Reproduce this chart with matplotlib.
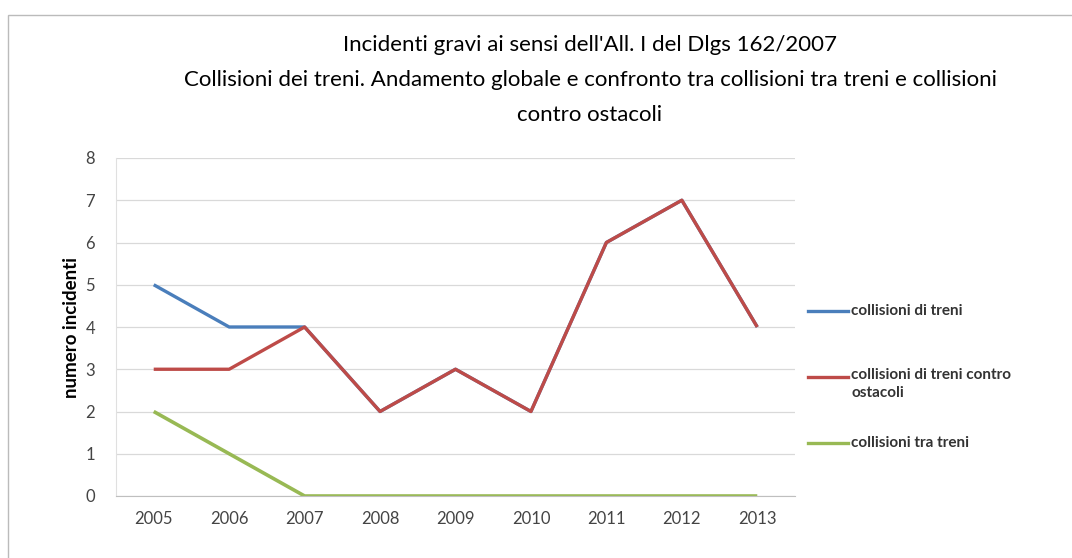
import matplotlib.pyplot as plt
from matplotlib.patches import Rectangle

plt.rcParams['font.family'] = ['Lato', 'DejaVu Sans']

anni = ['2005', '2006', '2007', '2008', '2009', '2010', '2011', '2012', '2013']
collisioni_treni = [5, 4, 4, 2, 3, 2, 6, 7, 4]
contro_ostacoli = [3, 3, 4, 2, 3, 2, 6, 7, 4]
tra_treni = [2, 1, 0, 0, 0, 0, 0, 0, 0]

fig = plt.figure(figsize=(10.72, 5.58), dpi=100)
ax = fig.add_axes([116 / 1072, 1 - 496 / 558, (795 - 116) / 1072, (496 - 158) / 558])

x = range(len(anni))
ax.plot(x, collisioni_treni, color='#4a7ebb', lw=2.4, solid_capstyle='butt')
ax.plot(x, contro_ostacoli, color='#be4b48', lw=2.4, solid_capstyle='butt')
ax.plot(x, tra_treni, color='#98b954', lw=2.6, solid_capstyle='butt')

ax.set_xlim(-0.5, len(anni) - 0.5)
ax.set_ylim(0, 8)
ax.set_yticks(range(0, 9))
ax.set_xticks(list(x))
ax.set_xticklabels(anni)
ax.grid(axis='y', color='#d9d9d9', lw=0.9)
ax.set_axisbelow(True)
for s in ['top', 'right']:
    ax.spines[s].set_visible(False)
ax.spines['left'].set_color('#e0e0e0')
ax.spines['bottom'].set_color('#bfbfbf')
ax.tick_params(axis='both', length=0, labelsize=12, colors='#444444')
ax.tick_params(axis='x', pad=11)
ax.tick_params(axis='y', pad=15)
ax.set_ylabel('numero incidenti', fontsize=13.5, fontweight='bold', labelpad=4)

# legenda
leg = [('collisioni di treni', '#4a7ebb', 311),
       ('collisioni di treni contro\nostacoli', '#be4b48', 377),
       ('collisioni tra treni', '#98b954', 443)]
for testo, col, yy in leg:
    fy = 1 - yy / 558
    fig.add_artist(plt.Line2D([808 / 1072, 848 / 1072], [fy, fy], color=col, lw=2.4))
    fig.text(851 / 1072, fy + (0.016 if '\n' in testo else 0), testo, fontsize=11,
             fontweight='bold', color='#333333',
             va='top' if '\n' in testo else 'center', linespacing=1.4,
             transform=fig.transFigure)

# titolo
fig.text(590 / 1072, 1 - 45 / 558, "Incidenti gravi ai sensi dell'All. I del Dlgs 162/2007",
         ha='center', va='center', fontsize=16)
fig.text(590 / 1072, 1 - 80 / 558,
         "Collisioni dei treni. Andamento globale e confronto tra collisioni tra treni e collisioni",
         ha='center', va='center', fontsize=16)
fig.text(590 / 1072, 1 - 115 / 558, "contro ostacoli", ha='center', va='center', fontsize=16)

fig.add_artist(Rectangle((8 / 1072, -0.05), 1.2, 1 - 15 / 558 + 0.05, transform=fig.transFigure,
                         fill=False, ec='#bbbbbb', lw=1))

fig.savefig('out.png', dpi=100)
